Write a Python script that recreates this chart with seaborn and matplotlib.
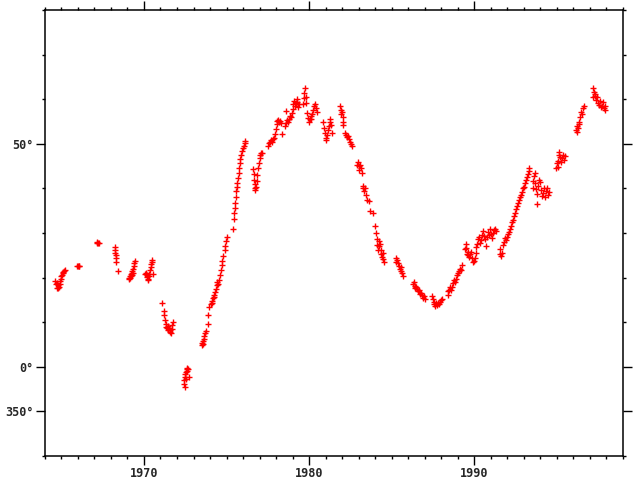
import matplotlib
matplotlib.use("Agg")
import matplotlib.pyplot as plt
import matplotlib.ticker as mticker
import pandas as pd
import seaborn as sns

# Leituras (ano decimal, ângulo em graus; negativo = abaixo de 0°, rotulado 350°)
anos_60 = [1964.62, 1964.66, 1964.70, 1964.72, 1964.76, 1964.80, 1964.84, 1964.88, 1964.92, 1964.96,
           1965.00, 1965.04, 1965.08, 1965.12, 1965.18, 1965.22,
           1965.96, 1966.00, 1966.04, 1966.08,
           1967.14, 1967.18, 1967.22, 1967.26,
           1968.22, 1968.25, 1968.27, 1968.29, 1968.31, 1968.33, 1968.40,
           1969.10, 1969.12, 1969.15, 1969.17, 1969.20, 1969.22, 1969.25, 1969.27, 1969.30, 1969.32,
           1969.35, 1969.38, 1969.41, 1969.43]
graus_60 = [19.2, 18.6, 17.6, 18.9, 17.7, 18.3, 18.0, 18.5, 19.3, 19.8,
            20.3, 20.6, 21.0, 21.3, 21.5, 21.7,
            22.6, 22.7, 22.6, 22.6,
            27.8, 27.9, 27.8, 27.7,
            26.9, 26.2, 25.6, 25.0, 24.5, 23.4, 21.5,
            19.6, 20.0, 20.4, 19.9, 20.8, 20.3, 21.0, 20.6, 21.4, 21.0,
            22.0, 22.6, 23.3, 23.8]

anos_70 = [1970.05, 1970.10, 1970.14, 1970.18, 1970.20, 1970.22, 1970.25, 1970.28, 1970.32, 1970.36,
           1970.40, 1970.43, 1970.46, 1970.49, 1970.52,
           1971.07, 1971.20, 1971.24, 1971.28, 1971.32, 1971.36, 1971.40, 1971.44, 1971.48, 1971.52,
           1971.56, 1971.60, 1971.64, 1971.68, 1971.72, 1971.75,
           1972.42, 1972.45, 1972.47, 1972.48, 1972.50, 1972.52, 1972.55, 1972.58, 1972.60, 1972.62,
           1972.66, 1972.70,
           1973.50, 1973.54, 1973.58, 1973.60, 1973.63, 1973.66, 1973.70, 1973.74, 1973.85, 1973.90,
           1973.96,
           1974.05, 1974.10, 1974.14, 1974.18, 1974.22, 1974.26, 1974.30, 1974.35, 1974.40, 1974.45,
           1974.50, 1974.55, 1974.60, 1974.65, 1974.70, 1974.75, 1974.80, 1974.88, 1974.93, 1974.97,
           1975.02, 1975.40, 1975.44, 1975.47, 1975.50, 1975.53, 1975.56, 1975.60, 1975.63, 1975.66,
           1975.70, 1975.73, 1975.76, 1975.80, 1975.84, 1975.90, 1975.95, 1976.00, 1976.05, 1976.10,
           1976.15,
           1976.62, 1976.65, 1976.68, 1976.70, 1976.72, 1976.75, 1976.78, 1976.82, 1976.86, 1976.90,
           1976.95, 1977.00, 1977.05, 1977.10, 1977.15,
           1977.52, 1977.58, 1977.64, 1977.70, 1977.76, 1977.82, 1977.88,
           1977.95, 1978.00, 1978.04, 1978.08, 1978.14, 1978.20, 1978.26, 1978.32, 1978.36,
           1978.55, 1978.60, 1978.62, 1978.66, 1978.72, 1978.78, 1978.84, 1978.90, 1978.96,
           1979.00, 1979.05, 1979.10, 1979.15, 1979.20, 1979.25, 1979.30, 1979.35, 1979.40,
           1979.62, 1979.68, 1979.72, 1979.76, 1979.80, 1979.84, 1979.90, 1979.95]
graus_70 = [20.8, 20.9, 21.0, 20.6, 20.2, 19.8, 19.5, 20.4, 20.9, 21.6,
            22.3, 23.0, 23.6, 23.9, 20.8,
            14.4, 12.6, 11.6, 10.4, 9.5, 9.0, 8.6, 8.3, 9.2, 8.8,
            8.2, 7.8, 7.6, 8.4, 9.4, 10.0,
            -3.0, -3.8, -4.6, -2.2, -1.6, -2.8, -1.2, -0.6, -0.2, -1.0,
            -0.4, -2.2,
            4.9, 5.3, 5.8, 5.2, 6.3, 6.9, 7.5, 8.0, 9.6, 11.6,
            13.4,
            14.0, 14.8, 14.2, 15.4, 16.0, 15.6, 16.7, 17.5, 18.3, 19.0,
            18.6, 19.5, 20.7, 21.8, 22.8, 23.8, 24.9, 26.2, 27.2, 28.2,
            29.0, 30.9, 33.2, 34.5, 35.6, 36.8, 38.0, 39.4, 40.3, 41.2,
            42.4, 43.5, 44.6, 45.6, 46.6, 47.5, 48.3, 49.0, 49.6, 50.2,
            50.6,
            44.4, 43.2, 42.0, 41.0, 40.2, 39.6, 40.4, 41.6, 43.0, 44.6,
            45.8, 46.8, 47.6, 47.9, 48.0,
            49.6, 50.1, 50.5, 50.8, 50.4, 51.0, 51.3,
            52.3, 53.4, 54.4, 55.2, 55.4, 54.9, 55.2, 54.6, 52.3,
            53.9, 54.6, 57.4, 55.3, 55.0, 55.6, 56.3, 56.0, 57.0,
            57.8, 59.0, 59.7, 58.6, 59.2, 60.0, 59.4, 58.2, 59.0,
            59.0, 60.2, 61.3, 62.5, 60.6, 59.2, 57.0, 55.8]

anos_80 = [1980.00, 1980.05, 1980.10, 1980.15, 1980.20, 1980.26, 1980.32, 1980.38, 1980.44, 1980.50,
           1980.85, 1980.90, 1980.95, 1981.00, 1981.05, 1981.10, 1981.15, 1981.20, 1981.25, 1981.30,
           1981.35, 1981.40,
           1981.88, 1981.92, 1981.96, 1982.00, 1982.04, 1982.06, 1982.08,
           1982.18, 1982.24, 1982.30, 1982.36, 1982.42, 1982.48, 1982.54, 1982.60,
           1982.90, 1982.95, 1983.00, 1983.05, 1983.10, 1983.15, 1983.20,
           1983.25, 1983.30, 1983.35, 1983.40, 1983.45, 1983.50, 1983.63, 1983.70, 1983.88,
           1984.00, 1984.06, 1984.10, 1984.14, 1984.18, 1984.22, 1984.26, 1984.30, 1984.34, 1984.38,
           1984.42, 1984.46, 1984.50, 1984.55,
           1985.25, 1985.30, 1985.35, 1985.40, 1985.45, 1985.50, 1985.55, 1985.60, 1985.65, 1985.72,
           1986.30, 1986.35, 1986.40, 1986.45, 1986.50, 1986.55, 1986.60, 1986.65, 1986.70, 1986.76,
           1986.82, 1986.88, 1986.94, 1987.00,
           1987.45, 1987.50, 1987.55, 1987.60, 1987.66, 1987.72, 1987.78, 1987.84, 1987.90, 1987.96,
           1988.02, 1988.08,
           1988.40, 1988.45, 1988.50, 1988.56, 1988.62, 1988.68, 1988.74, 1988.80, 1988.86, 1988.92,
           1988.98, 1989.04, 1989.10, 1989.16, 1989.22, 1989.28,
           1989.45, 1989.50, 1989.54, 1989.58, 1989.62, 1989.66, 1989.70, 1989.74, 1989.80, 1989.86,
           1989.92, 1989.98]
graus_80 = [55.0, 55.5, 56.3, 55.6, 56.8, 57.6, 58.4, 59.0, 58.0, 57.2,
            54.9, 53.6, 52.4, 51.3, 50.8, 52.0, 53.2, 54.0, 55.0, 55.6,
            54.3, 52.5,
            58.5, 57.6, 56.7, 57.2, 56.1, 55.0, 54.2,
            52.5, 52.0, 51.6, 51.8, 51.0, 50.5, 50.0, 49.6,
            45.3, 46.0, 45.0, 44.2, 45.2, 44.6, 43.5,
            40.6, 40.0, 39.4, 40.2, 38.6, 37.5, 37.2, 35.0, 34.5,
            31.5, 29.9, 28.6, 27.4, 26.2, 27.0, 28.2, 27.5, 26.1, 25.4,
            24.6, 25.6, 24.1, 23.6,
            23.5, 24.4, 24.0, 23.2, 22.6, 22.0, 22.4, 21.4, 21.0, 20.4,
            18.6, 19.0, 18.2, 17.6, 18.0, 17.4, 16.9, 17.2, 16.4, 16.6,
            16.0, 15.4, 15.8, 15.2,
            15.8, 15.2, 14.6, 14.0, 13.6, 14.2, 13.8, 14.4, 14.0, 14.6,
            14.9, 15.3,
            17.0, 16.2, 17.2, 17.8, 17.2, 18.0, 18.8, 19.4, 19.0, 19.8,
            20.6, 21.0, 21.4, 22.0, 21.6, 22.8,
            26.4, 27.6, 26.6, 25.4, 25.8, 25.0, 24.6, 25.2, 25.8, 24.4,
            23.6, 23.8]

anos_90 = [1990.04, 1990.10, 1990.15, 1990.20, 1990.26, 1990.32, 1990.38, 1990.44, 1990.50, 1990.56,
           1990.62, 1990.68, 1990.74, 1990.80, 1990.86, 1990.92, 1990.98, 1991.04, 1991.10, 1991.16,
           1991.22, 1991.28, 1991.34,
           1991.55, 1991.60, 1991.64, 1991.68,
           1991.76, 1991.82, 1991.88, 1991.94, 1992.00, 1992.06, 1992.12, 1992.18, 1992.24, 1992.30,
           1992.36, 1992.42,
           1992.48, 1992.54, 1992.60, 1992.66, 1992.72, 1992.78, 1992.84, 1992.90, 1992.96, 1993.02,
           1993.08, 1993.14, 1993.20, 1993.26, 1993.32, 1993.36,
           1993.55, 1993.60, 1993.64, 1993.68, 1993.72, 1993.76, 1993.80, 1993.84, 1993.88, 1993.92,
           1993.98, 1994.04, 1994.10, 1994.16, 1994.22, 1994.28, 1994.34, 1994.40, 1994.46, 1994.52,
           1994.98, 1995.02, 1995.06, 1995.10, 1995.14, 1995.18, 1995.22, 1995.28, 1995.34, 1995.40,
           1995.46, 1995.52,
           1996.18, 1996.22, 1996.26, 1996.30, 1996.34, 1996.38, 1996.44, 1996.50, 1996.56, 1996.62,
           1996.66,
           1997.20, 1997.24, 1997.28, 1997.32, 1997.36, 1997.40, 1997.46, 1997.50, 1997.56, 1997.62,
           1997.68, 1997.74, 1997.80, 1997.86, 1997.92, 1997.96]
graus_90 = [24.4, 25.6, 26.8, 27.6, 28.6, 29.2, 27.8, 28.4, 29.6, 30.4,
            29.4, 28.6, 27.2, 29.0, 30.2, 29.6, 30.8, 29.8, 28.8, 30.0,
            30.6, 31.0, 30.4,
            26.4, 25.2, 24.8, 25.6,
            27.4, 28.0, 28.8, 28.4, 29.2, 29.8, 30.2, 30.8, 31.6, 32.4,
            33.0, 33.8,
            34.6, 35.4, 36.0, 36.8, 37.4, 38.0, 38.6, 39.2, 40.0, 40.4,
            41.2, 41.8, 42.6, 43.2, 44.0, 44.6,
            40.2, 41.6, 42.8, 43.4, 41.2, 39.8, 38.8, 36.6, 40.6, 42.0,
            41.4, 39.6, 38.4, 39.0, 40.2, 38.0, 39.4, 40.0, 38.6, 39.2,
            44.6, 45.6, 44.8, 46.2, 47.4, 48.2, 47.0, 46.0, 46.8, 47.6,
            46.4, 47.2,
            53.2, 54.0, 52.6, 53.6, 54.4, 55.0, 56.0, 57.2, 56.6, 58.0,
            58.6,
            60.6, 62.6, 61.6, 60.8, 61.2, 59.8, 60.4, 59.2, 58.8, 59.6,
            58.2, 58.6, 59.4, 58.0, 57.6, 58.4]

ticks_y = [-10, 0, 50]
rotulos_y = ["350°", "0°", "50°"]
ticks_x = [1970, 1980, 1990]

df = pd.DataFrame({
    "ano": anos_60 + anos_70 + anos_80 + anos_90,
    "graus": graus_60 + graus_70 + graus_80 + graus_90,
})

sns.set_theme(style="ticks")
plt.rcParams["font.family"] = ["DejaVu Sans Mono"]

fig = plt.figure(figsize=(6.4, 4.8), dpi=100)
ax = fig.add_axes([0.0703, 0.05, 0.9024, 0.929])

sns.scatterplot(data=df, x="ano", y="graus", marker="+", s=15, linewidth=1.0,
                color="#ff0000", ax=ax, legend=False)

ax.set_xlim(1964, 1999)
ax.set_ylim(-20, 80)
ax.set_xlabel("")
ax.set_ylabel("")

ax.xaxis.set_major_locator(mticker.FixedLocator(ticks_x))
ax.xaxis.set_minor_locator(mticker.MultipleLocator(1))
ax.yaxis.set_major_locator(mticker.FixedLocator(ticks_y))
ax.set_yticklabels(rotulos_y)
ax.yaxis.set_minor_locator(mticker.MultipleLocator(10))

for lado in ["top", "right", "left", "bottom"]:
    ax.spines[lado].set_visible(True)
    ax.spines[lado].set_linewidth(1.1)
    ax.spines[lado].set_color("black")

ax.tick_params(which="both", direction="out", top=True, right=True, color="black", width=1.0)
ax.tick_params(which="major", length=6.5, labelsize=8.5, pad=1.5)
ax.tick_params(which="minor", length=2.5)
for rot in ax.get_xticklabels() + ax.get_yticklabels():
    rot.set_fontweight("bold")

fig.savefig("out.png", dpi=100, facecolor="white")
